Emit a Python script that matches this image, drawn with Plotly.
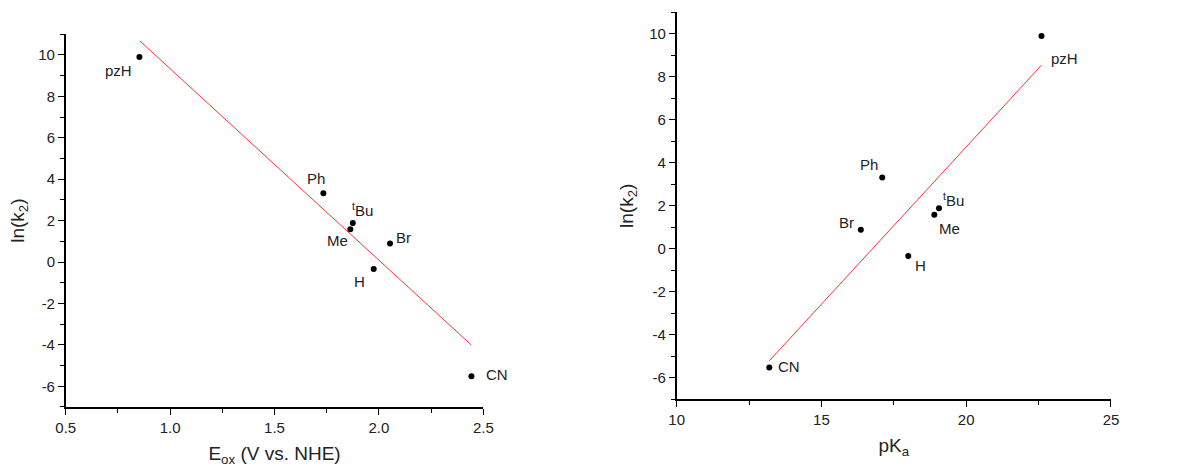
import plotly.graph_objects as go

# ---- data ----
labels = ["pzH", "Ph", "<sup>t</sup>Bu", "Me", "Br", "H", "CN"]
e_ox = [0.853, 1.734, 1.875, 1.863, 2.053, 1.975, 2.443]
pka = [22.6, 17.10, 19.06, 18.90, 16.36, 18.0, 13.2]
ln_k2 = [9.9, 3.32, 1.89, 1.58, 0.89, -0.33, -5.52]

fit_left_x = [0.856, 2.443]
fit_left_y = [10.67, -4.01]
fit_right_x = [13.2, 22.6]
fit_right_y = [-5.21, 8.54]

y_tickvals = [-6, -4, -2, 0, 2, 4, 6, 8, 10]
y_ticktext = ["-6", "-4", "-2", "0", "2", "4", "6", "8", "10"]
x1_tickvals = [0.5, 1.0, 1.5, 2.0, 2.5]
x1_ticktext = ["0.5", "1.0", "1.5", "2.0", "2.5"]
x2_tickvals = [10, 15, 20, 25]
x2_ticktext = ["10", "15", "20", "25"]

# ---- label offsets (pixels, style) ----
left_off = [(-21, -13), (-7, 15), (10, 13), (-13, -11), (13, 6), (-14, -13), (26, 2)]
right_off = [(23, -23), (-13, 13), (15, 9), (15, -14), (-14, 7), (12, -10), (20, 1)]

FONT = "Liberation Sans, Arial, sans-serif"
TXT = "#222222"

fig = go.Figure()
fig.add_trace(go.Scatter(x=fit_left_x, y=fit_left_y, mode="lines",
                         line=dict(color="#ff3030", width=1), xaxis="x", yaxis="y",
                         showlegend=False, hoverinfo="skip"))
fig.add_trace(go.Scatter(x=e_ox, y=ln_k2, mode="markers",
                         marker=dict(color="black", size=6), xaxis="x", yaxis="y",
                         showlegend=False))
fig.add_trace(go.Scatter(x=fit_right_x, y=fit_right_y, mode="lines",
                         line=dict(color="#ff3030", width=1), xaxis="x2", yaxis="y2",
                         showlegend=False, hoverinfo="skip"))
fig.add_trace(go.Scatter(x=pka, y=ln_k2, mode="markers",
                         marker=dict(color="black", size=6), xaxis="x2", yaxis="y2",
                         showlegend=False))

annotations = []
for lab, xv, yv, (dx, dy) in zip(labels, e_ox, ln_k2, left_off):
    annotations.append(dict(x=xv, y=yv, xref="x", yref="y", text=lab, showarrow=False,
                            xshift=dx, yshift=dy, font=dict(family=FONT, size=15, color=TXT)))
for lab, xv, yv, (dx, dy) in zip(labels, pka, ln_k2, right_off):
    annotations.append(dict(x=xv, y=yv, xref="x2", yref="y2", text=lab, showarrow=False,
                            xshift=dx, yshift=dy, font=dict(family=FONT, size=15, color=TXT)))

axis_common = dict(showline=True, linecolor="black", linewidth=1.5, ticks="outside",
                   ticklen=6, tickwidth=1.2, tickcolor="black", showgrid=False,
                   zeroline=False, tickfont=dict(family=FONT, size=15, color=TXT),
                   mirror=False, automargin=False, tickmode="array")
title_font = dict(family=FONT, size=19, color=TXT)

fig.update_layout(
    width=1178, height=471,
    margin=dict(l=0, r=0, t=0, b=0, autoexpand=False),
    paper_bgcolor="white", plot_bgcolor="white",
    font=dict(family=FONT, color=TXT),
    showlegend=False,
    annotations=annotations,
    xaxis=dict(domain=[0.0558, 0.4103], range=[0.5, 2.5], anchor="y",
               tickvals=x1_tickvals, ticktext=x1_ticktext,
               minor=dict(ticks="outside", ticklen=4, dtick=0.25, tick0=0.5, tickcolor="black", tickwidth=1),
               title=dict(text="E<sub>ox</sub> (V vs. NHE)", font=title_font, standoff=12),
               **axis_common),
    yaxis=dict(domain=[0.1359, 0.9272], range=[-7, 11], anchor="x",
               tickvals=y_tickvals, ticktext=y_ticktext,
               minor=dict(ticks="outside", ticklen=4, dtick=1, tick0=0, tickcolor="black", tickwidth=1),
               title=dict(text="ln(k<sub>2</sub>)", font=title_font, standoff=9),
               **axis_common),
    xaxis2=dict(domain=[0.5744, 0.9431], range=[10, 25], anchor="y2",
                tickvals=x2_tickvals, ticktext=x2_ticktext,
                minor=dict(ticks="outside", ticklen=4, dtick=2.5, tick0=10, tickcolor="black", tickwidth=1),
                title=dict(text="pK<sub>a</sub>", font=title_font, standoff=12),
                **axis_common),
    yaxis2=dict(domain=[0.1522, 0.9739], range=[-7, 11], anchor="x2",
                tickvals=y_tickvals, ticktext=y_ticktext,
                minor=dict(ticks="outside", ticklen=4, dtick=1, tick0=0, tickcolor="black", tickwidth=1),
                title=dict(text="ln(k<sub>2</sub>)", font=title_font, standoff=11),
                **axis_common),
)

fig.write_html("out.html", config={"displayModeBar": False},
               post_script="document.body.style.margin='0px';document.body.style.padding='0px';")
